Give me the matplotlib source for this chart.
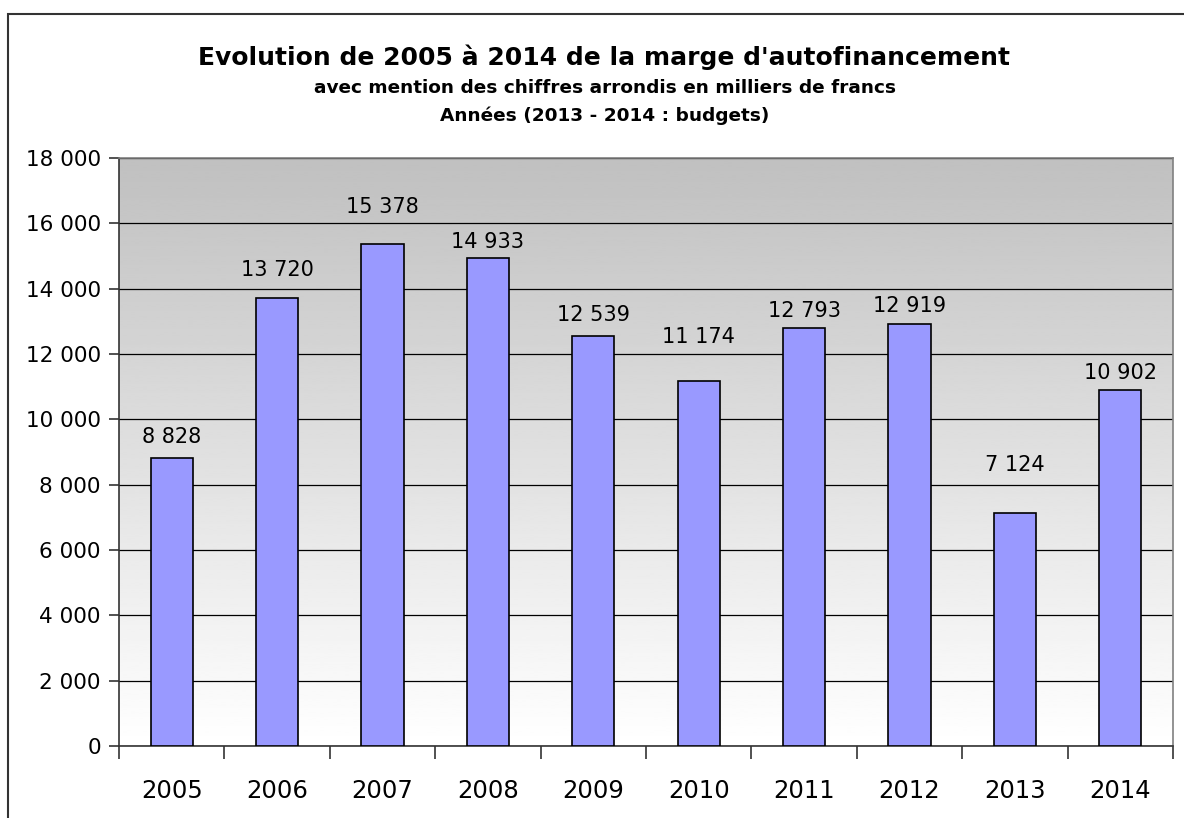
import numpy as np
import matplotlib.pyplot as plt
from matplotlib.patches import Rectangle

# data
years = ['2005', '2006', '2007', '2008', '2009', '2010', '2011', '2012', '2013', '2014']
marge = [8828, 13720, 15378, 14933, 12539, 11174, 12793, 12919, 7124, 10902]
labels = ['8 828', '13 720', '15 378', '14 933', '12 539', '11 174', '12 793', '12 919', '7 124', '10 902']
y_ticks = [0, 2000, 4000, 6000, 8000, 10000, 12000, 14000, 16000, 18000]

# labels were placed by hand in the original, gap above each bar (pixels)
label_gap = [11, 18, 27, 6, 11, 34, 7, 8, 38, 7]

plt.rcParams['font.family'] = 'DejaVu Sans'

W, H = 1184, 818
fig = plt.figure(figsize=(W / 100, H / 100), dpi=100)
fig.patch.set_facecolor('white')

# outer frame of the chart
fig.patches.append(Rectangle((8 / W, -0.1), 1.2, 1 - 14 / H + 0.1, transform=fig.transFigure,
                             fill=False, edgecolor='#333333', linewidth=1.5))

ax = fig.add_axes([119 / W, 1 - 746 / H, (1173 - 119) / W, (746 - 158) / H])

# gradient background: grey at the top fading to white at the bottom
grad = np.linspace(1.0, 0.753, 256).reshape(-1, 1)
ax.imshow(grad, cmap='gray', vmin=0, vmax=1, aspect='auto', origin='lower',
          extent=(-0.5, 9.5, 0, 18000), zorder=0, interpolation='bilinear')

x = np.arange(len(years))
ax.bar(x, marge, width=0.4, color='#9999FF', edgecolor='black', linewidth=1.2, zorder=3)

for i in range(len(years)):
    ax.annotate(labels[i], (x[i], marge[i]), xytext=(0, label_gap[i] * 0.72), textcoords='offset points',
                ha='center', va='bottom', fontsize=15, zorder=4)

ax.set_xlim(-0.5, 9.5)
ax.set_ylim(0, 18000)
ax.set_yticks(y_ticks)
ax.set_yticklabels([f'{v:,}'.replace(',', ' ') for v in y_ticks])
ax.yaxis.grid(True, color='black', linewidth=0.9)
ax.set_axisbelow(True)
for gl in ax.get_ygridlines():
    gl.set_zorder(1)

ax.set_xticks(np.arange(-0.5, 10, 1))
ax.set_xticklabels([])
ax.set_xticks(x, minor=True)
ax.set_xticklabels(years, minor=True, fontsize=17.5)
ax.tick_params(axis='x', which='major', direction='out', length=9, width=1.2, color='#333333')
ax.tick_params(axis='x', which='minor', length=0, pad=24)
ax.tick_params(axis='y', direction='out', length=7, width=1.2, color='#333333', labelsize=15.5, pad=6)

ax.spines['top'].set_color('#808080')
ax.spines['right'].set_color('#808080')
ax.spines['left'].set_color('#333333')
ax.spines['bottom'].set_color('#333333')
for s in ax.spines.values():
    s.set_linewidth(1.2)

cx = 0.5 * (199 + 1010) / W
fig.text(cx, 1 - 57 / H, "Evolution de 2005 à 2014 de la marge d'autofinancement",
         ha='center', va='center', fontsize=18, fontweight='bold')
fig.text(cx, 1 - 88 / H, 'avec mention des chiffres arrondis en milliers de francs',
         ha='center', va='center', fontsize=13.3, fontweight='bold')
fig.text(cx, 1 - 116 / H, 'Années (2013 - 2014 : budgets)',
         ha='center', va='center', fontsize=13.3, fontweight='bold')

fig.savefig('out.png', dpi=100)
